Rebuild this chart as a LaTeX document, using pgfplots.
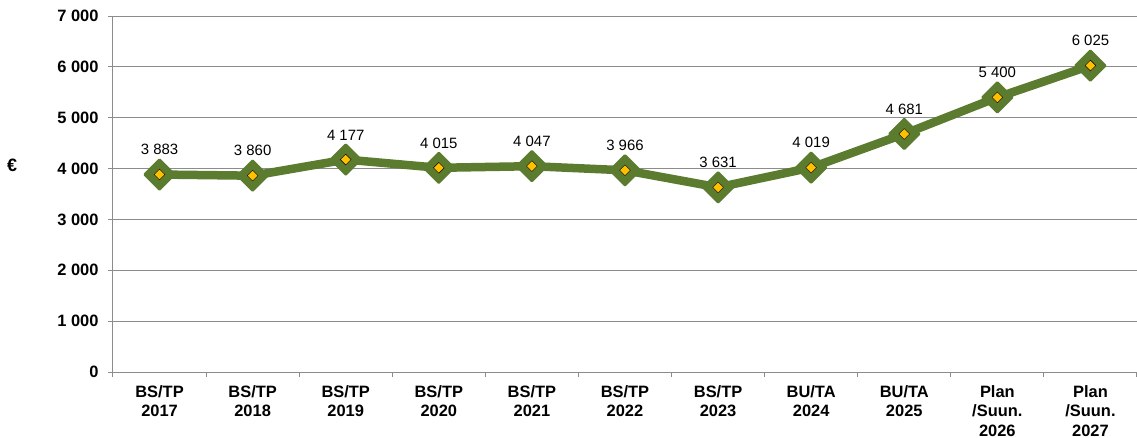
\documentclass[border=0pt]{standalone}
\usepackage{pgfplots}
\pgfplotsset{compat=1.18}
\usepackage{fontspec}
\setmainfont{Liberation Sans}

\definecolor{linegreen}{HTML}{5B7B2E}
\definecolor{markyellow}{HTML}{FFC000}
\definecolor{gridgray}{HTML}{8C8C8C}

\begin{document}
\begin{tikzpicture}
  \begin{axis}[
      scale only axis,
      width=1024bp, height=356bp,
      xmin=-0.5, xmax=10.5,
      ymin=0, ymax=7000,
      axis x line*=bottom,
      axis y line*=left,
      axis line style={gridgray, line width=1bp},
      xtick={0,...,10},
      xticklabels={BS/TP\\2017, BS/TP\\2018, BS/TP\\2019, BS/TP\\2020,
        BS/TP\\2021, BS/TP\\2022, BS/TP\\2023, BU/TA\\2024, BU/TA\\2025,
        Plan\\/Suun.\\2026, Plan\\/Suun.\\2027},
      major x tick style={draw=none},
      minor xtick={-0.5,0.5,...,10.5},
      ytick={0,1000,...,7000},
      ymajorgrids,
      grid style={gridgray, line width=1bp},
      tick style={gridgray, line width=1bp},
      tick align=outside,
      major tick length=5bp,
      minor tick length=5bp,
      xticklabel style={align=center, yshift=-5bp,
        font=\fontsize{16.5}{19.5}\selectfont\bfseries},
      yticklabel style={xshift=-6bp, font=\fontsize{16.5}{18}\selectfont\bfseries},
      /pgf/number format/1000 sep={\ },
      /pgf/number format/assume math mode=true,
      ylabel={\bfseries €},
      ylabel style={rotate=-90, font=\fontsize{18}{20}\selectfont,
        at={(axis description cs:-0.0985,0.58)}, anchor=center},
      clip=false,
    ]

    \coordinate (O) at (rel axis cs:0,0);

    \addplot[linegreen, line width=8.5bp, line join=round,
      mark=square*,
      mark options={scale=1, rotate=45, fill=linegreen, draw=linegreen,
        line width=2.5bp, line join=round, mark size=10.5bp},
      nodes near coords,
      nodes near coords style={text=black, font=\fontsize{15}{17}\selectfont, anchor=south, yshift=15bp}]
      coordinates {
        (0,3883) (1,3860) (2,4177) (3,4015) (4,4047) (5,3966)
        (6,3631) (7,4019) (8,4681) (9,5400) (10,6025)
      };

    \addplot[only marks, mark=square*,
      mark options={rotate=45, fill=markyellow, draw=none, mark size=3.8bp}]
      coordinates {
        (0,3883) (1,3860) (2,4177) (3,4015) (4,4047) (5,3966)
        (6,3631) (7,4019) (8,4681) (9,5400) (10,6025)
      };

  \end{axis}
  \pgfresetboundingbox
  \path (O) ++(-113bp,-66bp) rectangle ++(1137bp,438bp);
\end{tikzpicture}
\end{document}
